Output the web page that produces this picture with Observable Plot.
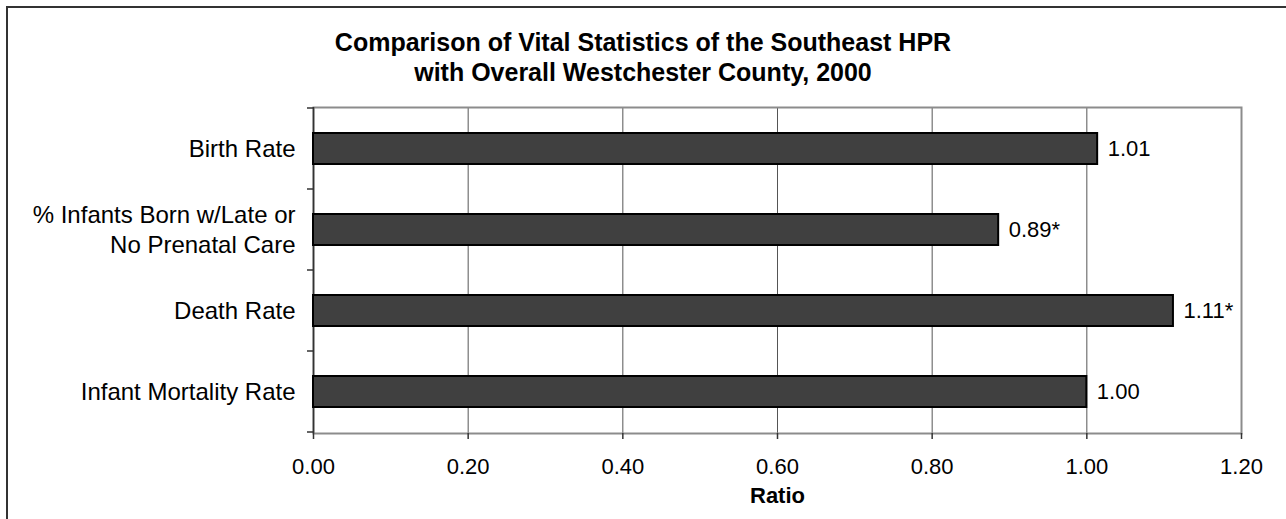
<!DOCTYPE html>
<html>
<head>
<meta charset="utf-8">
<script src="https://cdn.jsdelivr.net/npm/d3@7"></script>
<script src="https://cdn.jsdelivr.net/npm/@observablehq/plot@0.6"></script>
<style>
  html, body { margin: 0; padding: 0; background: #fff; }
  #wrap { position: relative; width: 1286px; height: 519px; overflow: hidden; font-family: "Liberation Sans", Arial, sans-serif; }
  #border { position: absolute; left: 6px; top: 6px; width: 1300px; height: 600px; border-top: 2px solid #333; border-left: 2px solid #333; pointer-events: none; }
  #title { padding-top: 27px; height: 60px; text-align: center; font-weight: bold; font-size: 25px; line-height: 30px; color: #000; }
</style>
</head>
<body>
<div id="wrap">
  <div id="border"></div>
  <div id="title">Comparison of Vital Statistics of the Southeast HPR<br>with Overall Westchester County, 2000</div>
  <div id="chart"></div>
</div>
<script>
const categories = ["Birth Rate", "% Infants Born w/Late or\nNo Prenatal Care", "Death Rate", "Infant Mortality Rate"];
const values = [1.014, 0.886, 1.112, 1.0];
const valueLabels = ["1.01", "0.89*", "1.11*", "1.00"];
const xTicks = [0, 0.2, 0.4, 0.6, 0.8, 1.0, 1.2];
const axisTitle = "Ratio";

const data = categories.map((c, i) => ({category: c, value: values[i], label: valueLabels[i]}));

const chart = Plot.plot({
  width: 1286,
  height: 432,
  marginTop: 20,
  marginBottom: 86,
  marginLeft: 313,
  marginRight: 45,
  style: {fontFamily: "'Liberation Sans', Arial, sans-serif", fontSize: "22px", color: "#000", background: "transparent", overflow: "visible"},
  x: {domain: [0, 1.2]},
  y: {domain: categories, paddingInner: 0.62, paddingOuter: 0.31, axis: null},
  marks: [
    Plot.gridX(xTicks.filter(t => t > 0 && t < 1.2), {stroke: "#555", strokeOpacity: 1, strokeWidth: 1}),
    Plot.frame({stroke: "#8c8c8c", strokeWidth: 2}),
    Plot.ruleX([0], {stroke: "#333", strokeWidth: 1.5}),
    Plot.axisX({ticks: xTicks, tickFormat: d3.format(".2f"), tickSize: 6, tickPadding: 19, line: true, stroke: "#333", strokeWidth: 1.5, label: null, fontSize: 22}),
    Plot.barX(data, {x: "value", y: "category", fill: "#404040", stroke: "#000", strokeWidth: 2}),
    Plot.text(data, {x: "value", y: "category", text: "label", textAnchor: "start", dx: 10, fill: "#000", fontSize: 22}),
    Plot.text(categories, {y: d => d, text: d => d, frameAnchor: "left", textAnchor: "end", dx: -18, dy: -2, lineHeight: 1.25, fill: "#000", fontSize: 24}),
    Plot.text([axisTitle], {text: d => d, frameAnchor: "bottom", lineAnchor: "middle", dy: 62, fontWeight: "bold", fontSize: 22, fill: "#000"})
  ]
});

// category boundary tick marks on the left axis (Excel style), from the plot's own y scale
const ys = chart.scale("y");
const svg = d3.select(chart);
const bounds = categories.map(c => ys.apply(c) + ys.bandwidth / 2 - ys.step / 2);
bounds.push(ys.apply(categories[categories.length - 1]) + ys.bandwidth / 2 + ys.step / 2);
svg.append("g").attr("stroke", "#333").attr("stroke-width", 1.5)
  .selectAll("line").data(bounds).join("line")
  .attr("x1", 313 - 6).attr("x2", 313)
  .attr("y1", d => d).attr("y2", d => d);

document.getElementById("chart").appendChild(chart);
</script>
</body>
</html>
